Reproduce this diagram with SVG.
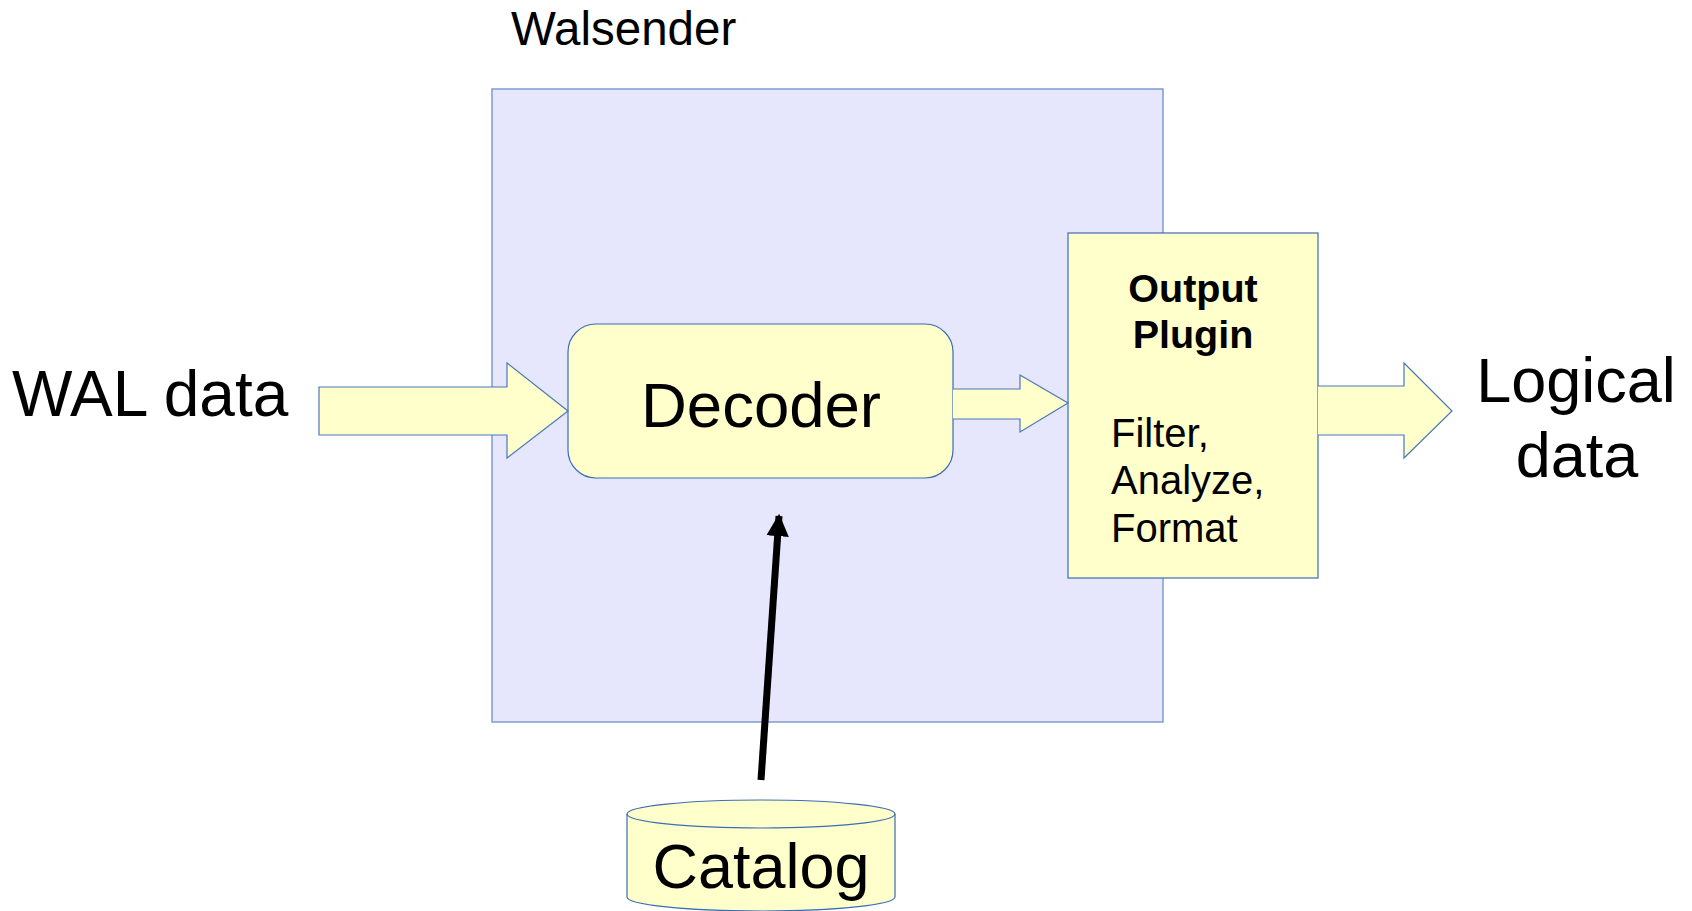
<svg xmlns="http://www.w3.org/2000/svg" width="1692" height="911" viewBox="0 0 1692 911">
  <style>
    .lbl { font-family: "Liberation Sans", Arial, sans-serif; fill: #000000; }
    .box { fill: #ffffcc; stroke: #3c6db4; stroke-width: 1.2; }
    .flow { fill: #ffffcc; stroke: #4a78bd; stroke-width: 1.2; stroke-linejoin: miter; }
  </style>
  <defs>
    <marker id="head" viewBox="0 0 10 10" refX="9" refY="5" markerWidth="3.2" markerHeight="4.6" markerUnits="strokeWidth" orient="auto">
      <path d="M0,0 L10,5 L0,10 Z" fill="#000000"/>
    </marker>
  </defs>
  <rect width="1692" height="911" fill="#ffffff"/>

  <!-- process container -->
  <g id="walsender">
    <rect x="492" y="89" width="671" height="633" fill="#e6e6fc" stroke="#7d9ccf" stroke-width="1.5"/>
    <text class="lbl" x="511" y="45" font-size="47.5">Walsender</text>
  </g>

  <!-- inbound WAL stream -->
  <g id="wal-data">
    <text class="lbl" x="12" y="416" font-size="64">WAL data</text>
  </g>

  <g id="decoder">
    <rect class="box" x="568" y="324" width="385" height="154" rx="28" ry="28"/>
    <text class="lbl" x="761" y="427" font-size="63.5" text-anchor="middle">Decoder</text>
  </g>

  <g id="output-plugin">
    <rect class="box" x="1068" y="233" width="250" height="345"/>
    <text class="lbl" x="1193" y="302" font-size="39.5" font-weight="bold" text-anchor="middle">Output</text>
    <text class="lbl" x="1193" y="348" font-size="39.5" font-weight="bold" text-anchor="middle">Plugin</text>
    <text class="lbl" x="1111" y="447" font-size="40">Filter,</text>
    <text class="lbl" x="1111" y="494" font-size="40">Analyze,</text>
    <text class="lbl" x="1111" y="542" font-size="40">Format</text>
  </g>

  <g id="logical-data">
    <text class="lbl" x="1576" y="402" font-size="63" text-anchor="middle">Logical</text>
    <text class="lbl" x="1577" y="477" font-size="63" text-anchor="middle">data</text>
  </g>

  <!-- system catalog store -->
  <g id="catalog">
    <path d="M627,814 A134,14 0 0 1 895,814 L895,897 A134,14 0 0 1 627,897 Z" fill="#ffffcc" stroke="#3c6db4" stroke-width="1.2"/>
    <path d="M627,814 A134,14 0 0 0 895,814" fill="none" stroke="#3c6db4" stroke-width="1.2"/>
    <text class="lbl" x="761" y="888" font-size="63" text-anchor="middle">Catalog</text>
  </g>

  <g id="connectors">
    <!-- block arrows -->
    <path class="flow" d="M319,387 L507,387 L507,363 L568,411 L507,458 L507,435 L319,435 Z"/>
    <path class="flow" d="M953,389 L1020,389 L1020,375 L1068,403 L1020,432 L1020,419 L953,419"/>
    <path class="flow" d="M1318,386 L1404,386 L1404,363 L1452,411 L1404,458 L1404,435 L1318,435"/>
    <!-- catalog lookup -->
    <line x1="761" y1="780" x2="779" y2="516" stroke="#000000" stroke-width="7" marker-end="url(#head)"/>
  </g>
</svg>
